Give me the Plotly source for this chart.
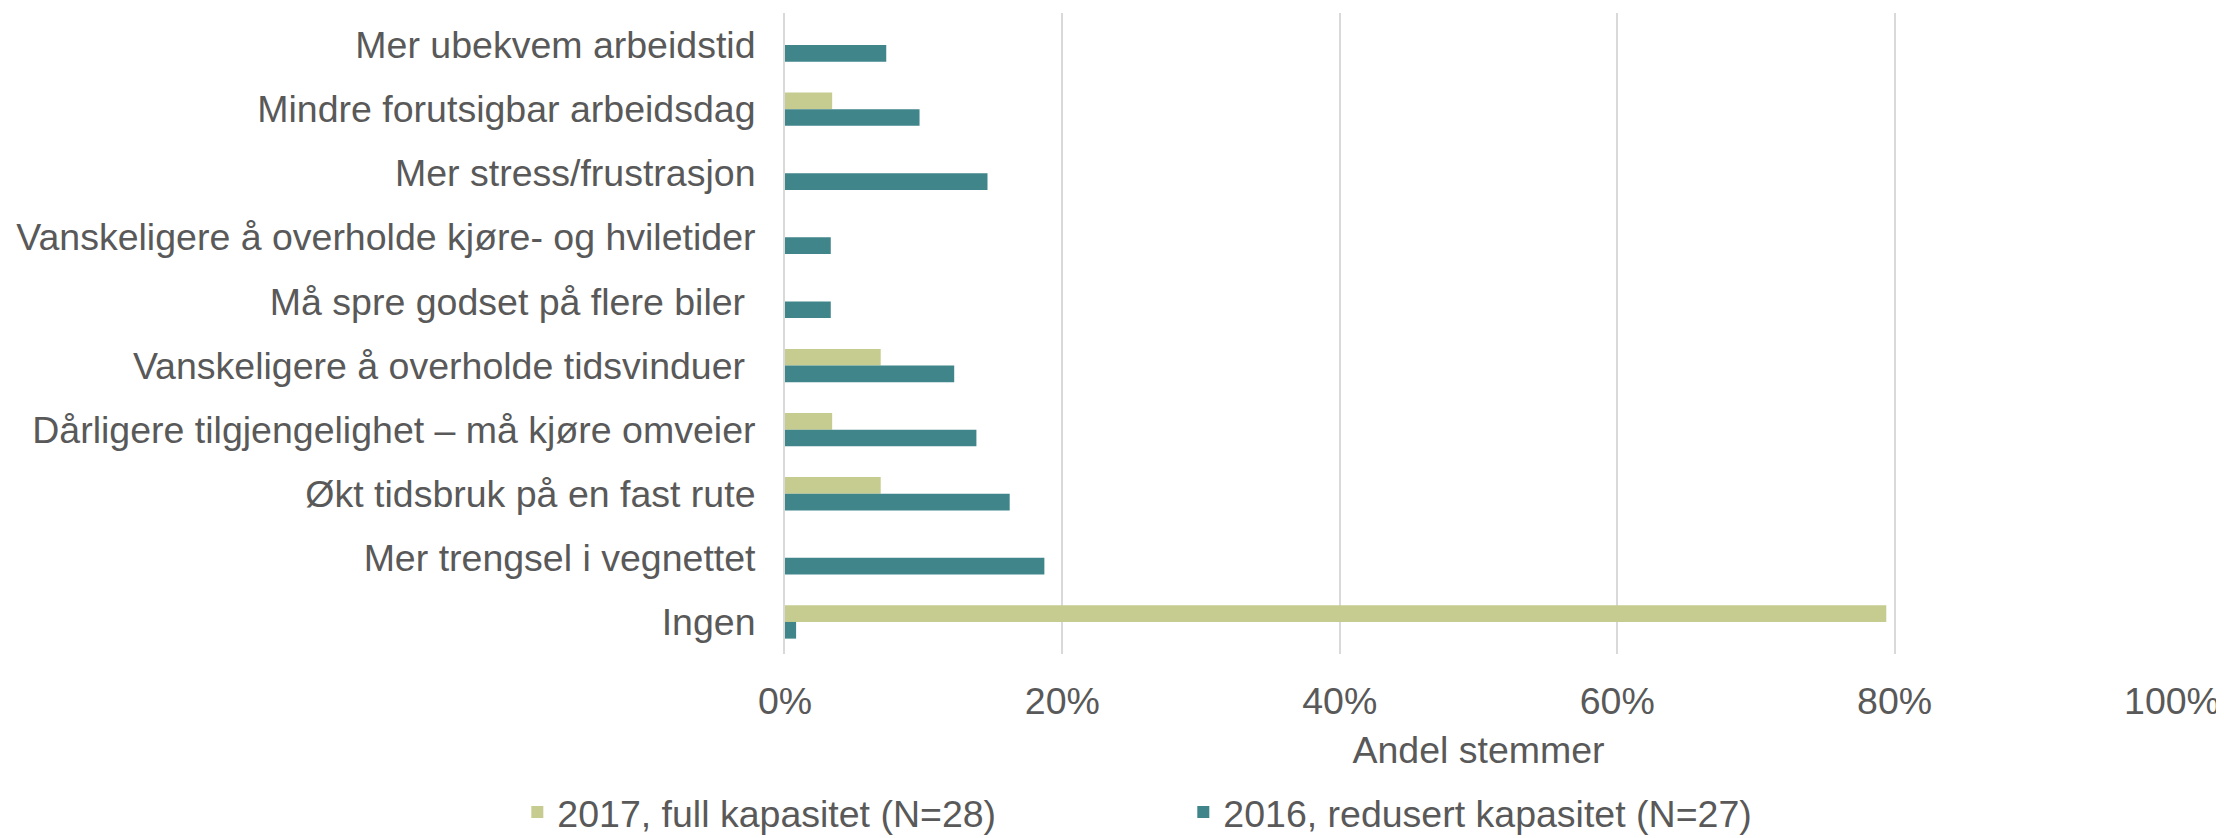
import plotly.graph_objects as go

categories = [
    "Mer ubekvem arbeidstid",
    "Mindre forutsigbar arbeidsdag",
    "Mer stress/frustrasjon",
    "Vanskeligere å overholde kjøre- og hviletider",
    "Må spre godset på flere biler\u00a0",
    "Vanskeligere å overholde tidsvinduer\u00a0",
    "Dårligere tilgjengelighet – må kjøre omveier",
    "Økt tidsbruk på en fast rute",
    "Mer trengsel i vegnettet",
    "Ingen",
]
series_2017_name = "2017, full kapasitet (N=28)"
series_2016_name = "2016, redusert kapasitet (N=27)"
values_2017 = [0.0, 0.034, 0.0, 0.0, 0.0, 0.069, 0.034, 0.069, 0.0, 0.794]
values_2016 = [0.073, 0.097, 0.146, 0.033, 0.033, 0.122, 0.138, 0.162, 0.187, 0.008]
x_ticks = [0, 0.2, 0.4, 0.6, 0.8, 1.0]
x_ticklabels = ["0%", "20%", "40%", "60%", "80%", "100%"]

GREEN = "#C6CC8F"
TEAL = "#40858A"
TEXT = "#595959"
FONT = "Liberation Sans, Arial, sans-serif"
FS = 37.5

fig = go.Figure()
fig.add_trace(go.Bar(y=categories, x=values_2017, orientation="h", name=series_2017_name,
                     marker=dict(color=GREEN, line=dict(width=0))))
fig.add_trace(go.Bar(y=categories, x=values_2016, orientation="h", name=series_2016_name,
                     marker=dict(color=TEAL, line=dict(width=0))))

# page body has an 8px default margin; figure sized to fill the remaining window
fig.update_layout(
    width=2216, height=830,
    margin=dict(l=777, r=52, t=5, b=184, autoexpand=False),
    paper_bgcolor="white", plot_bgcolor="white",
    barmode="group", bargap=0.48, bargroupgap=0,
    font=dict(family=FONT, size=FS, color=TEXT),
    showlegend=True,
    legend=dict(orientation="h", x=-0.193, xanchor="left", y=-0.2465, yanchor="middle",
                entrywidth=621, entrywidthmode="pixels", font=dict(size=FS, color=TEXT),
                traceorder="normal", itemclick=False),
    xaxis=dict(range=[0, 1.0], tickvals=x_ticks, ticktext=x_ticklabels,
               showgrid=True, gridcolor="#D9D9D9", gridwidth=2, zeroline=False,
               showline=False, ticks="outside", ticklen=14, tickcolor="rgba(0,0,0,0)",
               title=dict(text="Andel stemmer", standoff=15, font=dict(size=FS, color=TEXT)),
               fixedrange=True),
    yaxis=dict(autorange="reversed", showgrid=False, zeroline=False,
               showline=True, linecolor="#D9D9D9", linewidth=2,
               ticks="outside", ticklen=20, tickcolor="rgba(0,0,0,0)",
               fixedrange=True),
)

fig.write_html("out.html")
